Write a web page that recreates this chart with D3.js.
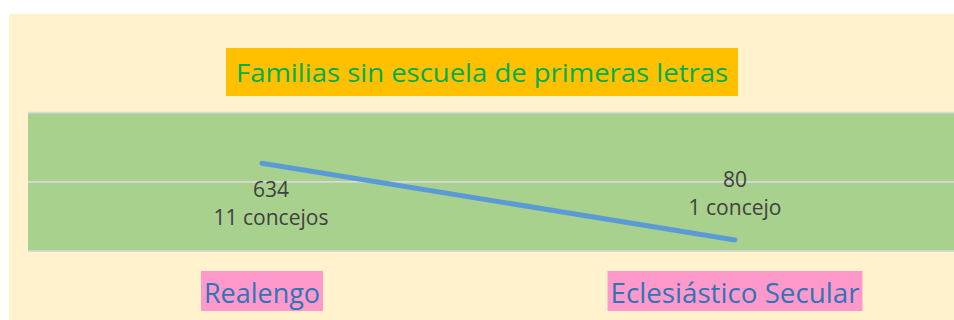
<!DOCTYPE html>
<html>
<head>
<meta charset="utf-8">
<script src="https://cdn.jsdelivr.net/npm/d3@7"></script>
<style>
  body { margin: 0; background: #fff; }
  text { font-family: "Open Sans", sans-serif; }
</style>
</head>
<body>
<div id="chart-area"></div>
<script>
// data
var categories = ["Realengo", "Eclesiástico Secular"];
var familias = [634, 80];
var concejos = ["11 concejos", "1 concejo"];
var yTicks = [0, 500, 1000];
var title = "Familias sin escuela de primeras letras";

var W = 954, H = 320;

var svg = d3.select("#chart-area")
  .append("svg")
  .attr("width", W)
  .attr("height", H);

// cream chart area
svg.append("rect")
  .attr("x", 9).attr("y", 14)
  .attr("width", W - 9).attr("height", H - 14)
  .attr("fill", "#FFF2CC");

// scales
var x = d3.scaleBand().domain(categories).range([25.5, 971.5]);
var y = d3.scaleLinear().domain([0, 1000]).range([251, 112.5]);

// green plot area
svg.append("rect")
  .attr("x", 28).attr("y", y(1000))
  .attr("width", W - 28).attr("height", y(0) - y(1000))
  .attr("fill", "#A9D18E");

// gridlines
svg.append("g")
  .attr("class", "grid")
  .selectAll("line")
  .data(yTicks)
  .enter().append("line")
  .attr("x1", 28).attr("x2", W)
  .attr("y1", function(d) { return y(d); })
  .attr("y2", function(d) { return y(d); })
  .attr("stroke", "#D9D9D9")
  .attr("stroke-width", 1.75);

var cx = function(d) { return x(d) + x.bandwidth() / 2; };

// line
var line = d3.line()
  .x(function(d, i) { return cx(categories[i]); })
  .y(function(d) { return y(d); });

svg.append("path")
  .attr("d", line(familias))
  .attr("fill", "none")
  .attr("stroke", "#5B9BD5")
  .attr("stroke-width", 5)
  .attr("stroke-linecap", "round");

// data labels: first below the point, second above
var labels = svg.append("g").selectAll("g")
  .data(familias)
  .enter().append("g")
  .attr("transform", function(d, i) {
    var dx = i == 0 ? 9 : 0;
    var dy = i == 0 ? 34 : -53;
    return "translate(" + (cx(categories[i]) + dx) + "," + (y(d) + dy) + ")";
  });
labels.append("text")
  .attr("text-anchor", "middle")
  .attr("font-size", "21px")
  .attr("fill", "#404040")
  .text(function(d) { return d; });
labels.append("text")
  .attr("text-anchor", "middle")
  .attr("y", 28)
  .attr("font-size", "21px")
  .attr("fill", "#404040")
  .text(function(d, i) { return concejos[i]; });

// title
var titleG = svg.append("g");
var titleText = titleG.append("text")
  .attr("x", 482).attr("y", 82)
  .attr("text-anchor", "middle")
  .attr("font-size", "26px")
  .attr("fill", "#00B050")
  .attr("textLength", 492)
  .attr("lengthAdjust", "spacingAndGlyphs")
  .text(title);
titleG.insert("rect", "text")
  .attr("x", 226).attr("y", 48)
  .attr("width", 512).attr("height", 48)
  .attr("fill", "#FFC000");

// category labels on pink boxes
var catWidths = [116, 249];
var cats = svg.append("g").selectAll("g")
  .data(categories)
  .enter().append("g");
cats.append("rect")
  .attr("x", function(d, i) { return cx(d) - catWidths[i] / 2 - 3; })
  .attr("y", 271)
  .attr("width", function(d, i) { return catWidths[i] + 6; })
  .attr("height", 40)
  .attr("fill", "#FF99CC");
cats.append("text")
  .attr("x", function(d) { return cx(d); })
  .attr("y", 303)
  .attr("text-anchor", "middle")
  .attr("font-size", "27px")
  .attr("fill", "#2E75B6")
  .attr("textLength", function(d, i) { return catWidths[i]; })
  .attr("lengthAdjust", "spacingAndGlyphs")
  .text(function(d) { return d; });
</script>
</body>
</html>
